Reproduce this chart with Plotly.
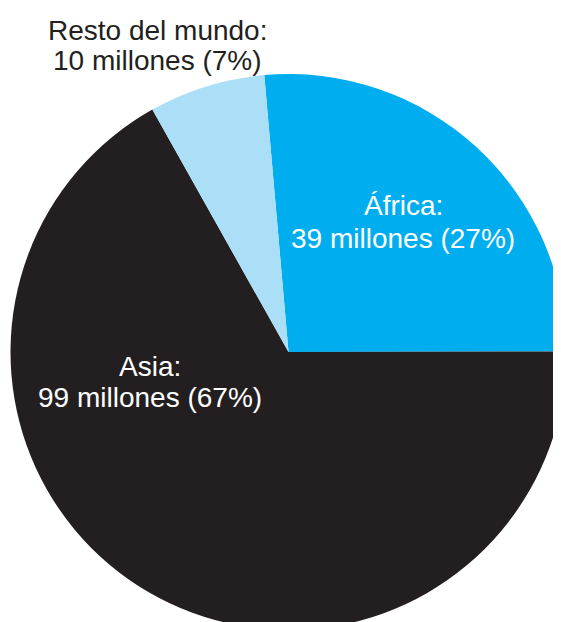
import plotly.graph_objects as go

regions = ["África", "Asia", "Resto del mundo"]
millions = [39, 99, 10]
percents = [27, 67, 7]
colors = ["#00AEEF", "#231F20", "#ABDFF8"]
label_colors = ["white", "white", "#231F20"]

# layout constants (pixels)
W, H = 561, 622
ML, MT = 0, 66
PW, PH = W - ML, H - MT
# label centres in pixels: x, first-line y, second-line y
label_px = [(395, 198, 230), (142, 358, 390), (149, 22, 53)]


def px_x(v):
    return (v - ML) / PW


def px_y(v):
    return (H - v) / PH


fig = go.Figure(go.Pie(
    labels=regions,
    values=millions,
    marker=dict(colors=colors, line=dict(width=0)),
    sort=False,
    direction="clockwise",
    rotation=-5,
    textinfo="none",
    hoverinfo="none",
    showlegend=False,
    domain=dict(x=[0, 1], y=[0, 1]),
))

for r, m, p, c, (x, y1, y2) in zip(regions, millions, percents, label_colors, label_px):
    for txt, yy in ((f"{r}:", y1), (f"{m} millones ({p}%)", y2)):
        fig.add_annotation(
            x=px_x(x), y=px_y(yy), xref="paper", yref="paper",
            text=txt, showarrow=False,
            xanchor="center", yanchor="middle",
            font=dict(family="Liberation Sans, Arial, sans-serif", size=28, color=c),
        )

fig.update_layout(
    width=W, height=H,
    margin=dict(l=ML, r=0, t=MT, b=0),
    paper_bgcolor="white",
    plot_bgcolor="white",
)

fig.write_html("out.html")
